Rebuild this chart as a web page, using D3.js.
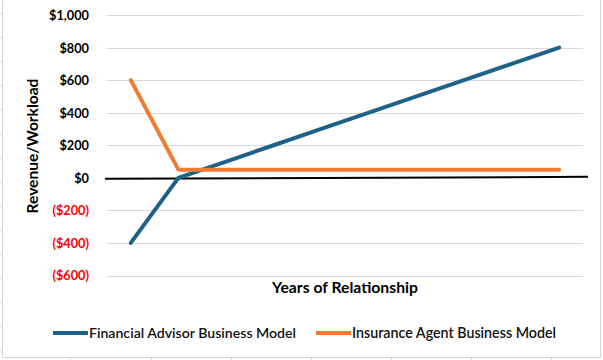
<!DOCTYPE html>
<html><head><meta charset="utf-8">
<script src="https://cdn.jsdelivr.net/npm/d3@7"></script>
<style>body{margin:0;background:#fff}svg{display:block}text{font-family:Lato,"Open Sans",sans-serif}</style>
</head><body>
<svg id="c" width="603" height="360"></svg>
<script>
const years = [1,2,3,4,5,6,7,8,9,10];
const advisor = [-400,0,100,200,300,400,500,600,700,800];
const agent = [600,50,50,50,50,50,50,50,50,50];
const yTicks = [-600,-400,-200,0,200,400,600,800,1000];
const seriesNames = ["Financial Advisor Business Model","Insurance Agent Business Model"];
const colors = ["#1d6388","#ed7d31"];

const svg = d3.select("#c");
const W=603,H=360;

// spreadsheet cell lines behind chart
const bg = svg.append("g").attr("stroke","#d4d4d4").attr("stroke-width",1);
bg.append("line").attr("x1",2.5).attr("x2",2.5).attr("y1",0).attr("y2",357.5);
bg.append("line").attr("x1",2.5).attr("x2",600.5).attr("y1",357.5).attr("y2",357.5);
bg.append("line").attr("x1",600.5).attr("x2",600.5).attr("y1",0).attr("y2",357.5);
d3.range(15).forEach(i=>{const yy=Math.round(13+i*24.1)+0.5;bg.append("line").attr("x1",0).attr("x2",2.5).attr("y1",yy).attr("y2",yy);});
[70,151,231,311,391,471,551].forEach(xx=>bg.append("line").attr("x1",xx+0.5).attr("x2",xx+0.5).attr("y1",357.5).attr("y2",360));

const x = d3.scaleBand().domain(years).range([107,583]);
const cx = d=>x(d)+x.bandwidth()/2;
const y = d3.scaleLinear().domain([-600,1000]).range([275.5,15]);

// gridlines
svg.append("g").selectAll("line").data(yTicks.filter(t=>t!==0)).join("line")
  .attr("x1",107).attr("x2",583).attr("y1",d=>Math.round(y(d))+0.5).attr("y2",d=>Math.round(y(d))+0.5)
  .attr("stroke","#d9d9d9").attr("stroke-width",1);

// y axis labels
const fmt = v => v<0 ? "($"+d3.format(",")(-v)+")" : "$"+d3.format(",")(v);
const yAxis = d3.axisLeft(y).tickValues(yTicks).tickFormat(fmt).tickSize(0).tickPadding(0);
const ya = svg.append("g").attr("transform","translate(89,0)").call(yAxis);
ya.select(".domain").remove();
ya.selectAll("text").attr("font-family","Lato").attr("font-weight","bold").attr("font-size","13px")
  .attr("fill",d=>d<0?"#ff0000":"#000").attr("dy","0.35em");

function fit(sel,target){const n=sel.node();const w=n.getComputedTextLength();const fs=parseFloat(sel.attr("font-size"));sel.attr("font-size",(fs*target/w).toFixed(2)+"px");}

// fit tick font so "$1,000" ~ 40px
const t1000 = ya.selectAll("text").filter(d=>d===1000);
{const w=t1000.node().getComputedTextLength();const fs=13*40/w;ya.selectAll("text").attr("font-size",fs.toFixed(2)+"px");}

// zero line
svg.append("line").attr("x1",105).attr("x2",588).attr("y1",y(0)+1).attr("y2",y(0)-1)
  .attr("stroke","#000").attr("stroke-width",2);

// series
const line = d3.line().x((d,i)=>cx(years[i])).y(d=>y(d));
[advisor,agent].forEach((s,k)=>{
  svg.append("path").datum(s).attr("d",line).attr("fill","none").attr("stroke",colors[k])
    .attr("stroke-width",4).attr("stroke-linejoin","round").attr("stroke-linecap","round");
});

// axis titles
const yt = svg.append("text").attr("transform","translate(38,146) rotate(-90)").attr("text-anchor","middle")
  .attr("font-weight","bold").attr("font-size","15px").text("Revenue/Workload");
fit(yt,135);
const xt = svg.append("text").attr("x",345).attr("y",293).attr("text-anchor","middle")
  .attr("font-weight","bold").attr("font-size","15px").text("Years of Relationship");
fit(xt,146);

// legend
const leg = [{x1:53,x2:88,tx:89,tw:207},{x1:316,x2:351,tx:352,tw:204}];
leg.forEach((l,k)=>{
  svg.append("line").attr("x1",l.x1).attr("x2",l.x2).attr("y1",333).attr("y2",333)
    .attr("stroke",colors[k]).attr("stroke-width",4);
  const t=svg.append("text").attr("x",l.tx).attr("y",338).attr("font-size","14px").attr("font-weight","600")
    .attr("fill","#111").text(seriesNames[k]);
  fit(t,l.tw);
});
</script>
</body></html>
